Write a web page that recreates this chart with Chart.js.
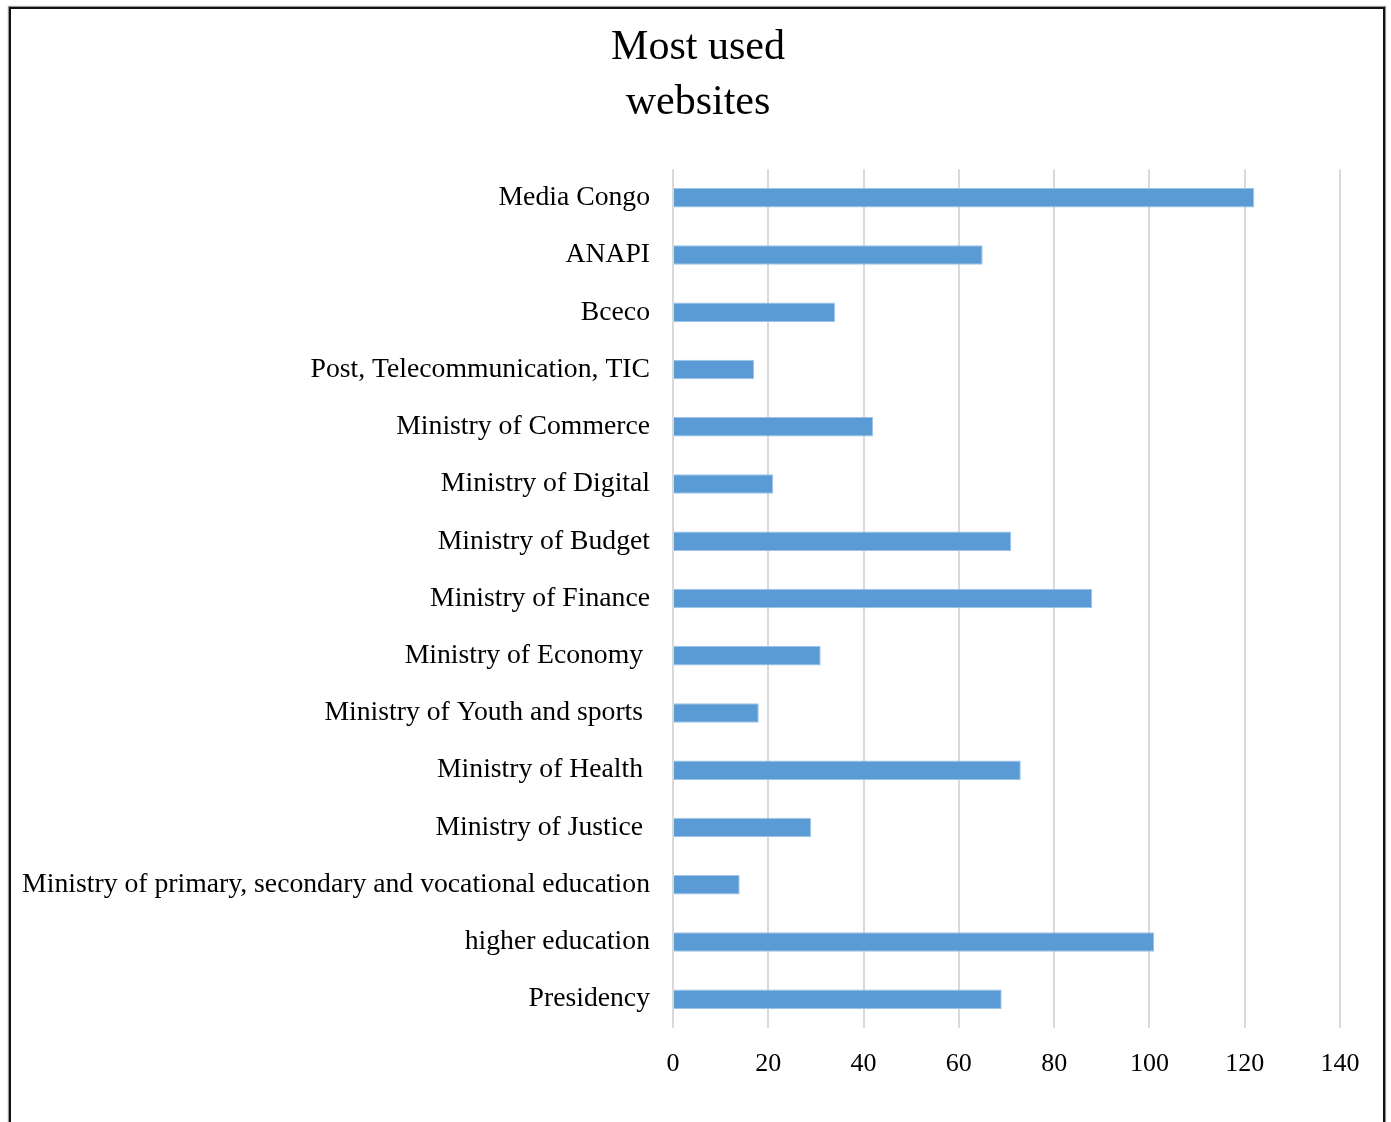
<!DOCTYPE html>
<html>
<head>
<meta charset="utf-8">
<title>Most used websites</title>
<script src="https://cdn.jsdelivr.net/npm/chart.js@4.4.1/dist/chart.umd.min.js"></script>
<style>
	html, body { margin: 0; padding: 0; background: #fff; overflow: hidden; }
	#wrap { position: relative; width: 1391px; height: 1122px; }
	#frame { position: absolute; left: 9px; top: 7px; width: 1372px; height: 1140px; border: 2px solid #111; box-shadow: 0 0 1px 1px #999; pointer-events: none; }
	canvas { position: absolute; left: 0; top: 0; }
</style>
</head>
<body>
<div id="wrap">
	<canvas id="chart" width="1391" height="1122"></canvas>
	<div id="frame"></div>
</div>
<script>
// chart data
const categories = [
	'Media Congo',
	'ANAPI',
	'Bceco',
	'Post, Telecommunication, TIC',
	'Ministry of Commerce',
	'Ministry of Digital',
	'Ministry of Budget',
	'Ministry of Finance',
	'Ministry of Economy ',
	'Ministry of Youth and sports ',
	'Ministry of Health ',
	'Ministry of Justice ',
	'Ministry of primary, secondary and vocational education',
	'higher education',
	'Presidency'
];
const visits = [122, 65, 34, 17, 42, 21, 71, 88, 31, 18, 73, 29, 14, 101, 69];
const titleLines = ['Most used', 'websites'];
const xMin = 0, xMax = 140, xStep = 20;

const serif = '"Liberation Serif", "Times New Roman", serif';
const padL = 56; // keeps the title centred where the original has it

// the long y labels run past the left padding, so let the y scale's label area start at 0
const widenLabels = {
	id: 'widenLabels',
	afterLayout(chart){ chart.scales.y.left = 0; }
};

new Chart(document.getElementById('chart'), {
	type: 'bar',
	data: {
		labels: categories,
		datasets: [{
			label: 'Visits',
			data: visits,
			backgroundColor: '#5b9bd5',
			borderColor: '#9dc3e6',
			borderWidth: 1,
			barPercentage: 0.34,
			categoryPercentage: 1
		}]
	},
	options: {
		indexAxis: 'y',
		responsive: false,
		animation: false,
		layout: { padding: { top: 8, right: 51, bottom: 21, left: padL } },
		plugins: {
			legend: { display: false },
			tooltip: { enabled: false },
			title: {
				display: true,
				text: titleLines,
				color: '#000',
				font: { family: serif, size: 42, weight: 'normal', lineHeight: 1.3 },
				padding: { top: 13, bottom: 39 }
			}
		},
		scales: {
			x: {
				min: xMin, max: xMax,
				ticks: { stepSize: xStep, color: '#000', font: { family: serif, size: 26 }, padding: 21 },
				grid: { color: '#d9d9d9', lineWidth: 2, drawTicks: false },
				border: { display: false }
			},
			y: {
				ticks: { color: '#000', font: { family: serif, size: 27.7 }, padding: 23, autoSkip: false },
				grid: { display: false, drawTicks: false },
				border: { display: false },
				afterFit: (s) => { s.width = 673 - padL; }
			}
		}
	},
	plugins: [widenLabels]
});
</script>
</body>
</html>
